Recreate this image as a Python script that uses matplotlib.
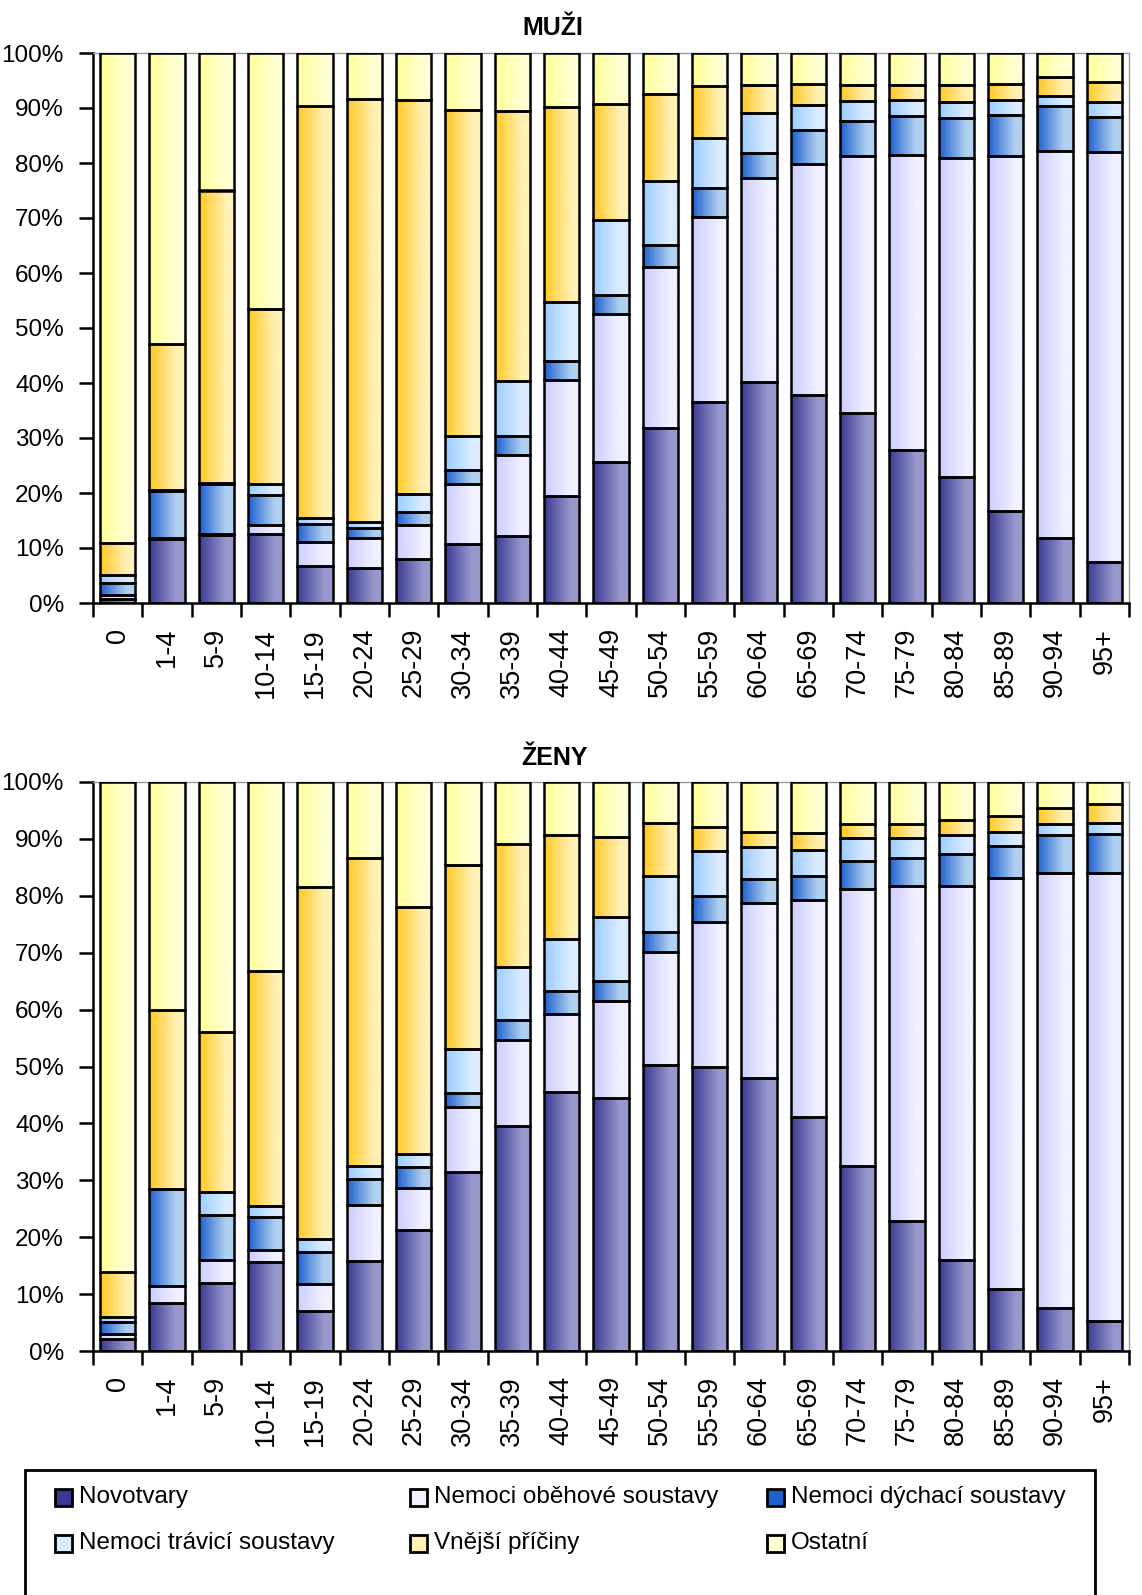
import numpy as np
import matplotlib.pyplot as plt
from matplotlib.patches import Rectangle
from matplotlib.colors import to_rgb

plt.rcParams['font.family'] = ['Liberation Sans', 'DejaVu Sans']

ages = ['0', '1-4', '5-9', '10-14', '15-19', '20-24', '25-29', '30-34', '35-39', '40-44',
        '45-49', '50-54', '55-59', '60-64', '65-69', '70-74', '75-79', '80-84', '85-89',
        '90-94', '95+']

series_names = ['Novotvary', 'Nemoci oběhové soustavy', 'Nemoci dýchací soustavy',
                'Nemoci trávicí soustavy', 'Vnější příčiny', 'Ostatní']

# MUŽI (%)
muzi_novotvary = [0.7, 11.6, 12.4, 12.5, 6.8, 6.4, 8.0, 10.7, 12.1, 19.5, 25.6, 31.8, 36.6, 40.2, 37.9, 34.6, 27.9, 22.9, 16.8, 11.9, 7.5]
muzi_obehove = [0.7, 0.2, 0.1, 1.7, 4.3, 5.5, 6.2, 11.0, 14.8, 21.1, 26.9, 29.3, 33.5, 37.1, 42.0, 46.7, 53.6, 58.0, 64.4, 70.2, 74.5]
muzi_dychaci = [2.3, 8.5, 9.2, 5.5, 3.3, 1.7, 2.4, 2.5, 3.4, 3.4, 3.5, 4.0, 5.3, 4.6, 6.1, 6.4, 7.0, 7.2, 7.6, 8.2, 6.4]
muzi_travici = [1.4, 0.2, 0.2, 1.9, 1.0, 1.2, 3.3, 6.1, 10.0, 10.7, 13.6, 11.6, 9.1, 7.2, 4.5, 3.5, 3.0, 3.0, 2.6, 1.8, 2.7]
muzi_vnejsi = [5.8, 26.6, 53.1, 31.9, 75.0, 76.8, 71.6, 59.4, 49.2, 35.4, 21.1, 15.9, 9.5, 5.1, 3.8, 3.0, 2.6, 3.0, 3.0, 3.5, 3.7]
muzi_ostatni = [89.1, 52.9, 25.0, 46.5, 9.6, 8.4, 8.5, 10.3, 10.5, 9.9, 9.3, 7.4, 6.0, 5.8, 5.7, 5.8, 5.9, 5.9, 5.6, 4.4, 5.2]

# ŽENY (%)
zeny_novotvary = [2.1, 8.5, 11.9, 15.6, 7.0, 15.8, 21.2, 31.5, 39.5, 45.6, 44.4, 50.2, 49.9, 47.9, 41.1, 32.5, 22.9, 16.0, 10.9, 7.5, 5.2]
zeny_obehove = [0.8, 3.0, 4.1, 2.1, 4.7, 9.9, 7.5, 11.3, 15.2, 13.7, 17.1, 19.9, 25.5, 30.8, 38.2, 48.7, 58.8, 65.7, 72.2, 76.5, 78.8]
zeny_dychaci = [2.2, 16.9, 7.9, 5.9, 5.7, 4.5, 3.6, 2.6, 3.4, 4.0, 3.5, 3.6, 4.5, 4.3, 4.1, 4.9, 4.9, 5.7, 5.6, 6.6, 6.9]
zeny_travici = [0.9, 0.1, 4.1, 1.9, 2.3, 2.4, 2.3, 7.6, 9.3, 9.1, 11.2, 9.8, 7.9, 5.5, 4.7, 4.1, 3.6, 3.2, 2.6, 2.0, 1.9]
zeny_vnejsi = [7.9, 31.5, 28.0, 41.3, 61.8, 54.0, 43.4, 32.4, 21.7, 18.2, 14.2, 9.3, 4.3, 2.8, 3.0, 2.4, 2.5, 2.8, 2.8, 2.8, 3.4]
zeny_ostatni = [86.1, 40.0, 44.0, 33.2, 18.5, 13.4, 22.0, 14.6, 10.9, 9.4, 9.6, 7.2, 7.9, 8.7, 8.9, 7.4, 7.3, 6.6, 5.9, 4.6, 3.8]

# gradient colours (left, right) per series
grad_colors = [('#3a3a94', '#9898cc'),
               ('#ccccff', '#f0f0ff'),
               ('#1e5fcf', '#b0d0f0'),
               ('#99ccff', '#dcecff'),
               ('#ffc820', '#fff0b4'),
               ('#ffff96', '#ffffd4')]


def gradient(c1, c2, n=64):
    t = np.clip(np.linspace(0, 1, n) / 0.75, 0, 1)[:, None]
    a = np.array(to_rgb(c1))
    b = np.array(to_rgb(c2))
    return (a + (b - a) * t)[None, :, :]


def draw_panel(ax, data):
    x = np.arange(len(ages))
    bottom = np.zeros(len(ages))
    for k, vals in enumerate(data):
        vals = np.array(vals)
        bars = ax.bar(x, vals, bottom=bottom, width=0.72, facecolor='none',
                      edgecolor='black', linewidth=1.8, zorder=3)
        img = gradient(*grad_colors[k])
        for p in bars:
            if p.get_height() <= 0:
                continue
            ax.imshow(img, extent=[p.get_x(), p.get_x() + p.get_width(),
                                   p.get_y(), p.get_y() + p.get_height()],
                      aspect='auto', interpolation='bilinear', zorder=2)
        bottom += vals

    ax.set_xlim(-0.5, len(ages) - 0.5)
    ax.set_ylim(0, 100)
    ax.set_yticks(np.arange(0, 101, 10))
    ax.set_yticklabels(['%d%%' % v for v in range(0, 101, 10)], fontsize=17.5)
    ax.tick_params(axis='y', direction='out', length=10, width=1.8, pad=11)
    ax.set_xticks(x)
    ax.set_xticklabels(ages, rotation=90, fontsize=19.5)
    ax.tick_params(axis='x', which='major', length=0, pad=18)
    ax.set_xticks(np.arange(-0.5, len(ages), 1), minor=True)
    ax.tick_params(axis='x', which='minor', direction='out', length=10, width=1.8)
    for s in ['left', 'bottom']:
        ax.spines[s].set_linewidth(1.8)
    for s in ['top', 'right']:
        ax.spines[s].set_color('#999999')
        ax.spines[s].set_linewidth(1)


fig = plt.figure(figsize=(11.42, 15.95), dpi=100)
W, H = 1142.0, 1595.0

ax1 = fig.add_axes([93 / W, 1 - 603 / H, 1036 / W, 550 / H])
ax2 = fig.add_axes([93 / W, 1 - 1351 / H, 1036 / W, 569 / H])

draw_panel(ax1, [muzi_novotvary, muzi_obehove, muzi_dychaci, muzi_travici, muzi_vnejsi, muzi_ostatni])
draw_panel(ax2, [zeny_novotvary, zeny_obehove, zeny_dychaci, zeny_travici, zeny_vnejsi, zeny_ostatni])

fig.text(553 / W, 1 - 28 / H, 'MUŽI', fontsize=18, fontweight='bold', ha='center', va='center')
fig.text(555 / W, 1 - 758 / H, 'ŽENY', fontsize=18, fontweight='bold', ha='center', va='center')

# legend box
fig.patches.append(Rectangle((25 / W, -0.01), 1070 / W, 1 - 1470 / H + 0.01,
                             transform=fig.transFigure, facecolor='white',
                             edgecolor='black', linewidth=2))
leg_x = [55, 410, 767]
leg_y = [1497, 1543]
for k, name in enumerate(series_names):
    row = 0 if k in (0, 1, 2) else 1
    col = k % 3
    px, py = leg_x[col], leg_y[row]
    fig.patches.append(Rectangle((px / W, 1 - (py + 9) / H), 17 / W, 17 / H,
                                 transform=fig.transFigure,
                                 facecolor=grad_colors[k][0] if k in (0, 2) else grad_colors[k][1],
                                 edgecolor='black', linewidth=2))
    fig.text((px + 24) / W, 1 - py / H, name, fontsize=17.5, va='center', ha='left')

plt.savefig('out.png', dpi=100)
